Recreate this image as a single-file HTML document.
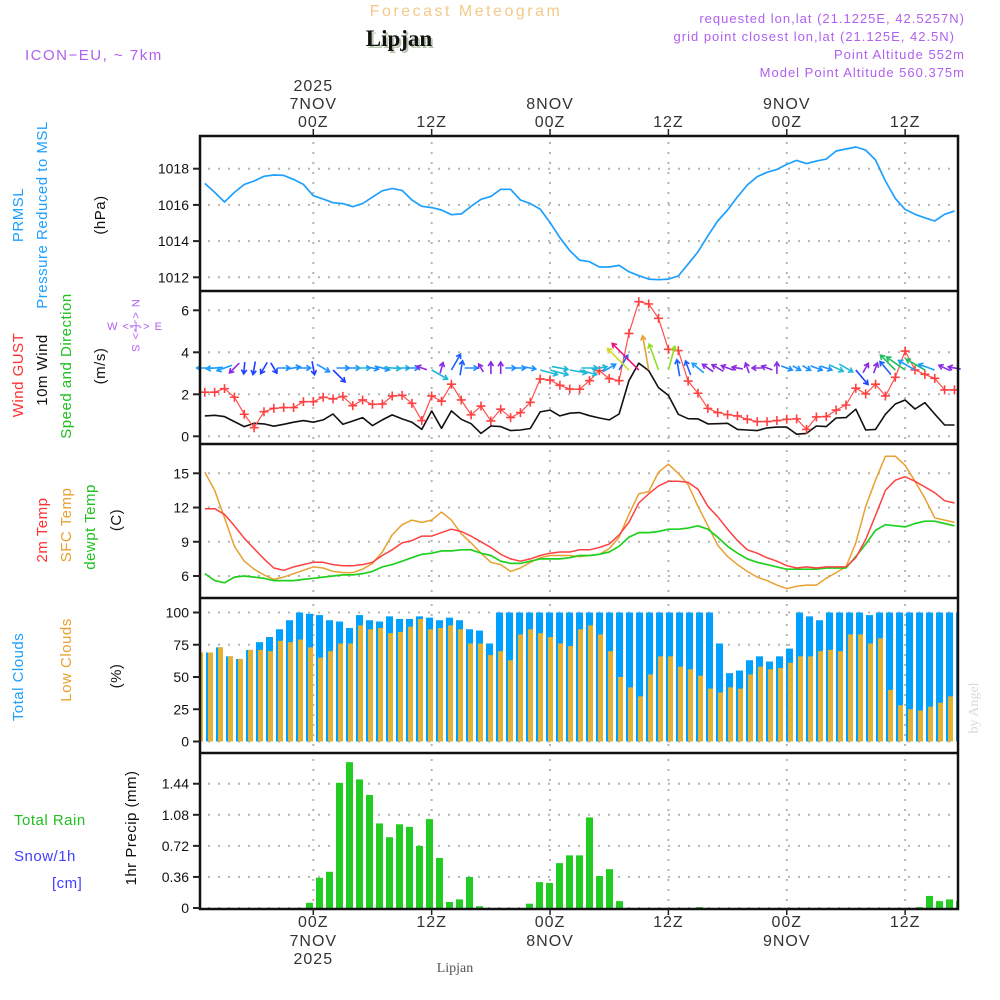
<!DOCTYPE html>
<html><head><meta charset="utf-8"><title>Forecast Meteogram - Lipjan</title>
<style>
html,body{margin:0;padding:0;background:#fff;}
svg{display:block;font-family:"Liberation Sans",sans-serif;}
</style></head>
<body>
<svg id="chart" width="1000" height="1000" viewBox="0 0 1000 1000" xmlns="http://www.w3.org/2000/svg">
  <text x="466" y="16" text-anchor="middle" font-size="16" fill="#f3c98a" letter-spacing="2.5">Forecast Meteogram</text>
  <text x="401" y="48" text-anchor="middle" font-size="23" font-weight="bold" font-family="Liberation Serif, serif" fill="#b8c8b0">Lipjan</text>
  <text x="399" y="46" text-anchor="middle" font-size="23" font-weight="bold" font-family="Liberation Serif, serif" fill="#111">Lipjan</text>
  <text x="25" y="60" font-size="15" fill="#b060f0" letter-spacing="1.5">ICON−EU, ~ 7km</text>
  <g font-size="13" fill="#b060f0" text-anchor="end" letter-spacing="1">
    <text x="965" y="23">requested lon,lat (21.1225E, 42.5257N)</text>
    <text x="955" y="41">grid point closest lon,lat (21.125E, 42.5N)</text>
    <text x="965" y="59">Point Altitude 552m</text>
    <text x="965" y="77">Model Point Altitude 560.375m</text>
  </g>
  <text x="970" y="700" font-size="14" fill="#d8d8d8" font-family="Liberation Serif, serif" transform="rotate(-90 978 700)" text-anchor="middle">by Angel</text>
  <text x="455" y="972" font-size="14" fill="#555" font-family="Liberation Serif, serif" text-anchor="middle">Lipjan</text>

  <g font-size="15" letter-spacing="0.5">
    <text transform="translate(23,215) rotate(-90)" text-anchor="middle" fill="#1ea0ff">PRMSL</text>
    <text transform="translate(47,215) rotate(-90)" text-anchor="middle" fill="#1ea0ff">Pressure Reduced to MSL</text>
    <text transform="translate(105,215) rotate(-90)" text-anchor="middle" fill="#111">(hPa)</text>
    <text transform="translate(23,375) rotate(-90)" text-anchor="middle" fill="#ff3030">Wind GUST</text>
    <text transform="translate(47,370) rotate(-90)" text-anchor="middle" fill="#111">10m Wind</text>
    <text transform="translate(71,366) rotate(-90)" text-anchor="middle" fill="#20c020">Speed and Direction</text>
    <text transform="translate(105,366) rotate(-90)" text-anchor="middle" fill="#111">(m/s)</text>
    <text transform="translate(47,530) rotate(-90)" text-anchor="middle" fill="#ff3030">2m Temp</text>
    <text transform="translate(71,525) rotate(-90)" text-anchor="middle" fill="#e8a030">SFC Temp</text>
    <text transform="translate(95,527) rotate(-90)" text-anchor="middle" fill="#20c020">dewpt Temp</text>
    <text transform="translate(121,520) rotate(-90)" text-anchor="middle" fill="#111">(C)</text>
    <text transform="translate(23,677) rotate(-90)" text-anchor="middle" fill="#1ea0ff">Total Clouds</text>
    <text transform="translate(71,660) rotate(-90)" text-anchor="middle" fill="#e8a030">Low Clouds</text>
    <text transform="translate(121,676) rotate(-90)" text-anchor="middle" fill="#111">(%)</text>
    <text x="14" y="825" fill="#20c020">Total  Rain</text>
    <text x="14" y="861" fill="#4040ff">Snow/1h</text>
    <text x="52" y="888" fill="#4040ff">[cm]</text>
    <text transform="translate(136,828) rotate(-90)" text-anchor="middle" fill="#111">1hr Precip (mm)</text>
  </g>
  <g font-size="11" fill="#b060f0">
    <text transform="translate(132,326) rotate(90)" text-anchor="middle" letter-spacing="1">N &lt;-|-&gt; S</text>
    <text x="135" y="330" text-anchor="middle" letter-spacing="1">W &lt;-|-&gt; E</text>
  </g>
  <g id="grid"></g>
  <g id="marks"></g>
  <g id="frame"></g>
  <g id="axes"></g>
</svg>
<script>
const hours = [];
for (let h = -11; h <= 65; h++) hours.push(h);
const pressure = [1017.19,1016.69,1016.16,1016.69,1017.13,1017.32,1017.58,1017.65,1017.63,1017.41,1017.13,1016.51,1016.32,1016.12,1016.07,1015.90,1016.07,1016.43,1016.78,1016.91,1016.80,1016.27,1015.92,1015.85,1015.72,1015.46,1015.50,1015.92,1016.31,1016.47,1016.86,1016.86,1016.27,1016.07,1015.77,1015.03,1014.19,1013.47,1012.95,1012.86,1012.57,1012.57,1012.66,1012.31,1012.09,1011.90,1011.87,1011.90,1012.07,1012.73,1013.41,1014.30,1015.11,1015.72,1016.45,1017.10,1017.56,1017.80,1017.96,1018.24,1018.46,1018.28,1018.42,1018.53,1018.98,1019.09,1019.20,1019.03,1018.48,1017.32,1016.36,1015.75,1015.48,1015.29,1015.11,1015.48,1015.66];
const windGust = [2.10,2.10,2.27,1.86,1.05,0.41,1.17,1.33,1.37,1.37,1.65,1.65,1.86,1.78,1.90,1.46,1.73,1.52,1.54,1.92,1.95,1.57,0.75,1.92,1.67,2.48,1.73,1.02,1.44,0.73,1.29,0.89,1.13,1.62,2.73,2.68,2.43,2.25,2.24,2.65,3.13,2.75,2.65,4.90,6.41,6.30,5.62,4.14,4.08,2.63,2.05,1.33,1.13,1.03,0.97,0.81,0.70,0.70,0.75,0.81,0.83,0.33,0.92,0.94,1.25,1.49,2.29,2.02,2.48,1.92,2.81,4.06,3.16,2.95,2.76,2.21,2.21];
const windSpeed = [0.97,1.00,0.94,0.70,0.46,0.62,0.59,0.48,0.57,0.67,0.75,0.67,0.78,1.06,0.57,0.73,0.89,0.51,0.78,1.02,0.83,0.67,0.33,1.21,0.38,1.21,0.81,0.60,0.14,0.49,0.46,0.27,0.30,0.37,1.16,1.25,0.97,1.10,1.13,0.98,0.87,0.78,1.06,2.65,3.48,3.13,2.32,1.95,1.05,0.84,0.83,0.59,0.60,0.62,0.33,0.30,0.27,0.40,0.44,0.44,0.10,0.14,0.49,0.46,0.87,0.89,1.29,0.30,0.33,1.05,1.54,1.73,1.30,1.60,1.06,0.54,0.54];
const windDir = [180,175,160,135,95,100,120,60,0,350,0,80,30,45,0,0,0,10,15,5,0,0,200,30,285,300,280,0,240,270,270,0,0,10,15,15,10,10,15,0,350,330,300,225,225,260,250,285,260,250,220,215,210,200,190,250,180,200,270,20,30,30,20,20,25,30,50,300,290,230,225,215,210,210,200,205,190];
const temp2m = [11.9,11.9,11.4,10.4,9.3,8.4,7.5,6.7,6.5,6.8,7.0,7.2,7.2,7.0,6.9,6.9,7.0,7.2,7.8,8.3,8.9,9.1,9.5,9.5,9.8,10.1,9.9,9.5,9.0,8.5,7.9,7.5,7.3,7.5,7.8,8.0,8.1,8.1,8.3,8.3,8.5,8.8,9.6,10.7,12.4,13.2,13.9,14.3,14.3,14.2,13.6,12.1,11.2,10.1,9.1,8.3,8.0,7.6,7.3,6.9,6.7,6.8,6.7,6.8,6.8,6.8,7.6,9.2,11.3,13.5,14.4,14.7,14.3,13.8,13.3,12.6,12.4];
const tempSfc = [15.1,13.5,11.1,8.6,7.3,6.6,6.1,5.7,5.9,6.2,6.5,6.8,6.7,6.4,6.3,6.3,6.6,7.1,8.1,9.6,10.5,10.9,10.7,10.9,11.6,10.9,9.7,8.9,8.0,7.2,7.0,6.4,6.7,7.2,7.6,7.8,7.8,7.8,7.7,7.8,7.9,8.4,9.4,11.4,13.2,13.4,15.1,15.8,15.0,14.0,12.1,10.4,8.7,7.7,7.0,6.4,5.9,5.6,5.2,4.9,5.1,5.2,5.2,5.8,6.3,6.8,8.9,12.1,14.4,16.5,16.5,15.7,14.3,12.8,11.1,10.9,10.7];
const dewpt = [6.2,5.6,5.4,5.9,6.0,5.9,5.8,5.6,5.6,5.6,5.7,5.8,5.9,6.0,6.1,6.1,6.2,6.4,6.8,7.0,7.3,7.6,7.9,8.0,8.2,8.2,8.3,8.3,8.0,7.8,7.3,7.1,7.1,7.3,7.5,7.5,7.5,7.6,7.8,7.8,7.9,8.1,8.6,9.4,9.8,9.8,9.9,10.1,10.1,10.2,10.4,10.1,9.4,8.6,8.0,7.5,7.2,7.0,6.8,6.6,6.6,6.6,6.6,6.7,6.7,6.7,7.7,8.8,10.0,10.5,10.4,10.3,10.6,10.8,10.8,10.6,10.4];
const totalClouds = [69,69,73,66,64,71,77,81,87,94,100,99,98,94,93,88,98,94,93,97,95,95,97,96,94,96,94,87,86,76,100,100,100,100,100,100,100,100,100,100,100,100,100,100,100,100,100,100,100,100,100,100,76,53,55,63,66,62,66,72,100,97,94,100,100,100,100,98,100,100,100,100,100,100,100,100,100];
const lowClouds = [69,69,73,66,64,71,71,70,78,77,79,73,65,70,76,76,90,87,88,84,85,89,95,87,88,90,87,76,76,67,70,63,83,87,84,81,76,74,87,90,83,70,50,42,35,52,66,66,58,56,51,41,38,42,41,52,58,56,57,61,66,66,70,71,70,83,83,76,80,40,28,25,24,27,30,35,39];
const precip = [0,0,0,0,0,0,0,0,0,0,0,0.06,0.35,0.42,1.45,1.69,1.49,1.31,0.98,0.82,0.97,0.94,0.72,1.03,0.58,0.07,0.10,0.36,0.02,0,0,0,0,0.05,0.30,0.29,0.52,0.61,0.61,1.05,0.37,0.45,0.08,0,0,0,0,0,0,0,0.01,0,0,0,0,0,0,0,0,0,0,0,0,0,0,0,0,0,0,0,0,0,0.01,0.14,0.08,0.10,0.08];
const pressureTicks = [1012,1014,1016,1018];
const windTicks = [0,2,4,6];
const tempTicks = [6,9,12,15];
const cloudTicks = [0,25,50,75,100];
const precipTicks = [0,0.36,0.72,1.08,1.44];
const precipTickLabels = ["0","0.36","0.72","1.08","1.44"];
const timeTicks = [0,12,24,36,48,60];
const topLine1 = ["2025","","","","",""];
const topLine2 = ["7NOV","","8NOV","","9NOV",""];
const timeLabels = ["00Z","12Z","00Z","12Z","00Z","12Z"];
const bottomLine3 = ["2025","","","","",""];

const X0 = 200, X1 = 958;
const xT = t => 313.3 + 9.864 * t;
const barL = t => 306 + 10 * t;
const yP = p => 168.7 + (1018 - p) * 18.1;
const yW = v => 436.3 - v * 21;
const yT = T => 576 - (T - 6) * 11.41;
const yC = c => 741.5 - c * 1.29;
const yR = r => 908 - r * 86.3;
const panels = [[136,291],[291,444],[444,598],[598,753],[753,909]];

const NS = "http://www.w3.org/2000/svg";
function mk(tag, attrs, parent) {
  const e = document.createElementNS(NS, tag);
  for (const k in attrs) e.setAttribute(k, attrs[k]);
  parent.appendChild(e);
  return e;
}
const grid = document.getElementById('grid');
const marks = document.getElementById('marks');
const frame = document.getElementById('frame');
const axes = document.getElementById('axes');

const dot = {stroke:"#b4b4b4","stroke-width":2,"stroke-dasharray":"2 8",fill:"none"};
function hgrid(ticks, fy, labels, name) {
  ticks.forEach((v, i) => {
    const y = fy(v);
    const g = mk('line', Object.assign({x1:X0+8,x2:X1,y1:y,y2:y}, dot), grid);
    
    
    const tk = mk('line', {x1:193,x2:X0,y1:y,y2:y,stroke:"#222","stroke-width":2}, axes);
    
    
    const tx = mk('text', {x:189,y:y+5,"text-anchor":"end","font-size":14,fill:"#111"}, axes);
    tx.textContent = labels ? labels[i] : String(v);
    
    
  });
}
hgrid(pressureTicks, yP, null, 'pressure');
hgrid(windTicks, yW, null, 'wind');
hgrid(tempTicks, yT, null, 'temp');
hgrid(cloudTicks, yC, null, 'clouds');
hgrid(precipTicks, yR, precipTickLabels, 'precip');

timeTicks.forEach((t, i) => {
  const x = xT(t);
  panels.forEach(p => {
    const v = mk('line', Object.assign({x1:x,x2:x,y1:p[0]+6,y2:p[1]}, dot), grid);
    
    
  });
  const tt = mk('line', {x1:x,x2:x,y1:129,y2:136,stroke:"#222","stroke-width":1.5}, axes);
  
  
  const bt = mk('line', {x1:x,x2:x,y1:909,y2:915,stroke:"#222","stroke-width":1.5}, axes);
  
  
  const rows = [[topLine1[i],91],[topLine2[i],109],[timeLabels[i],127],[timeLabels[i],927],[topLine2[i],946],[bottomLine3[i],964]];
  rows.forEach(r => {
    if (!r[0]) return;
    const tx = mk('text', {x:x,y:r[1],"text-anchor":"middle","font-size":16,fill:"#333","letter-spacing":"1"}, axes);
    tx.textContent = r[0];
    
    
  });
});

function clipBar(l, w) { const a = Math.max(l, X0 + 1), b = Math.min(l + w, X1); return [a, Math.max(0, b - a)]; }
function line(vals, fy, color, name, width) {
  const pts = vals.map((v, i) => xT(hours[i]).toFixed(1) + ',' + fy(v).toFixed(1)).join(' ');
  const pl = mk('polyline', {points:pts,fill:"none",stroke:color,"stroke-width":width||1.6,"stroke-linejoin":"round"}, marks);
  
  
}

totalClouds.forEach((c, i) => {
  const [a, w] = clipBar(barL(hours[i]), 7);
  if (w <= 0) return;
  const r = mk('rect', {x:a,y:yC(c),width:w,height:yC(0)-yC(c),fill:"#00a0ff"}, marks);
  
  
});
lowClouds.forEach((c, i) => {
  const [a, w] = clipBar(barL(hours[i]) + 2, 5);
  if (w <= 0) return;
  const r = mk('rect', {x:a,y:yC(c),width:w,height:yC(0)-yC(c),fill:"#e6b030"}, marks);
  
  
});
precip.forEach((v, i) => {
  if (v <= 0) return;
  const [a, w] = clipBar(barL(hours[i]), 7);
  if (w <= 0) return;
  const r = mk('rect', {x:a,y:yR(v),width:w,height:yR(0)-yR(v),fill:"#22cc22"}, marks);
  
  
});

line(pressure, yP, "#1ea0ff", "pressure-line", 1.7);
line(tempSfc, yT, "#e8a030", "sfc-temp-line", 1.5);
line(dewpt, yT, "#20d020", "dewpt-line", 1.7);
line(temp2m, yT, "#ff4040", "temp-2m-line", 1.5);
line(windSpeed, yW, "#111", "wind-speed-line", 1.6);
line(windGust, yW, "#ff5050", "wind-gust-line", 1.2);
windGust.forEach((v, i) => {
  const x = xT(hours[i]), y = yW(v);
  const p = mk('path', {d:`M${x-4.5},${y}H${x+4.5}M${x},${y-4.5}V${y+4.5}`,stroke:"#ff4040","stroke-width":1.6}, marks);
  
  
});

function arrowColor(d, s) {
  if (s > 3.2) return "#e8147a";
  if (s > 2.9) return "#e8a030";
  if (s > 2.4) return "#d8d820";
  if (s > 1.9) return "#90e020";
  if (s > 1.45) return "#20c060";
  if (d >= 315 || d < 45) return s > 0.8 ? "#20b8d8" : "#1e90ff";
  if (d < 135) return "#2040ff";
  if (d < 225) return s > 0.8 ? "#1e9fff" : "#8a2be2";
  return s > 0.8 ? "#2060ff" : "#8a2be2";
}
windDir.forEach((d, i) => {
  const s = windSpeed[i];
  const L = 8 + 8.5 * s;
  const rad = d * Math.PI / 180;
  const vx = Math.cos(rad) * L, vy = Math.sin(rad) * L;
  const x = xT(hours[i]);
  let tx, ty;
  if (L < 17) { tx = x - vx / 2; ty = 368 - vy / 2; } else { tx = x; ty = 370; }
  const hx = tx + vx, hy = ty + vy;
  const c = arrowColor(d, s);
  const a1 = rad + Math.PI * 0.82, a2 = rad - Math.PI * 0.82, hl = 5;
  const path = `M${tx.toFixed(1)},${ty.toFixed(1)}L${hx.toFixed(1)},${hy.toFixed(1)}M${(hx+Math.cos(a1)*hl).toFixed(1)},${(hy+Math.sin(a1)*hl).toFixed(1)}L${hx.toFixed(1)},${hy.toFixed(1)}L${(hx+Math.cos(a2)*hl).toFixed(1)},${(hy+Math.sin(a2)*hl).toFixed(1)}`;
  const p = mk('path', {d:path,stroke:c,"stroke-width":1.6,fill:"none"}, marks);
  
  
});

const fr = mk('rect', {x:X0,y:136,width:X1-X0,height:909-136,fill:"none",stroke:"#111","stroke-width":2.5}, frame);


[291,444,598,753].forEach(y => {
  const l = mk('line', {x1:X0,x2:X1,y1:y,y2:y,stroke:"#111","stroke-width":2.5}, frame);
  
  
});
</script>
</body></html>
